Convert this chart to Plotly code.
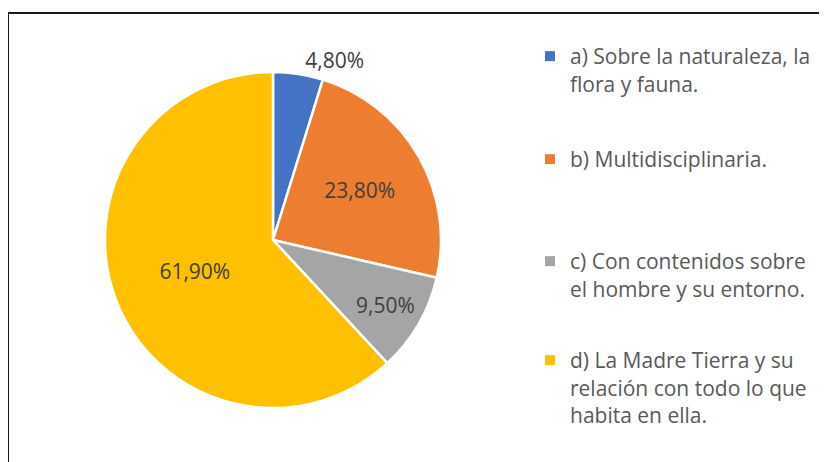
import plotly.graph_objects as go

categories = [
    "a) Sobre la naturaleza, la<br>flora y fauna.",
    "b) Multidisciplinaria.",
    "c) Con contenidos sobre<br>el hombre y su entorno.",
    "d) La Madre Tierra y su<br>relación con todo lo que<br>habita en ella.",
]
values = [4.8, 23.8, 9.5, 61.9]
colors = ["#4472C4", "#ED7D31", "#A5A5A5", "#FFC000"]
text_positions = ["outside", "inside", "inside", "inside"]

# page body has an 8px margin; figure sized to fit the window
W, H = 819, 454
cx, cy, r = 265, 232, 168
FONT = "Open Sans"
FS = 21

fig = go.Figure()
fig.add_trace(go.Pie(
    labels=categories,
    values=values,
    sort=False,
    direction="clockwise",
    rotation=0,
    marker=dict(colors=colors, line=dict(color="white", width=2.5)),
    texttemplate="%{value:.2f}%",
    textposition=text_positions,
    insidetextorientation="horizontal",
    textfont=dict(family=FONT, size=FS, color="#404040"),
    hoverinfo="label+value",
    showlegend=False,
    domain=dict(x=[(cx - r) / W, (cx + r) / W], y=[(H - cy - r) / H, (H - cy + r) / H]),
))

# legend entries (one legend per category, evenly spaced like the original)
legend_tops = [28, 131, 233, 332]
legend_names = ["legend", "legend2", "legend3", "legend4"]
for name, col, lg in zip(categories, colors, legend_names):
    fig.add_trace(go.Scatter(
        x=[None], y=[None], mode="markers", name=name,
        marker=dict(symbol="square", size=10, color=col),
        legend=lg, hoverinfo="skip",
    ))

legend_common = dict(
    xanchor="left", yanchor="top",
    font=dict(family=FONT, size=FS, color="#595959"),
    valign="top", bgcolor="rgba(0,0,0,0)",
)
layout_legends = {}
for lg, top in zip(legend_names, legend_tops):
    layout_legends[lg] = dict(x=522 / W, y=1 - top / H, **legend_common)

fig.update_layout(
    width=W, height=H,
    margin=dict(l=0, r=0, t=0, b=0),
    paper_bgcolor="white",
    plot_bgcolor="white",
    separators=",.",
    showlegend=True,
    xaxis=dict(visible=False),
    yaxis=dict(visible=False),
    shapes=[dict(
        type="rect", xref="paper", yref="paper",
        x0=0, x1=1.02, y0=-0.02, y1=1 - 5 / H,
        line=dict(color="#1a1a1a", width=2),
    )],
    **layout_legends,
)

fig.write_html("out.html")
